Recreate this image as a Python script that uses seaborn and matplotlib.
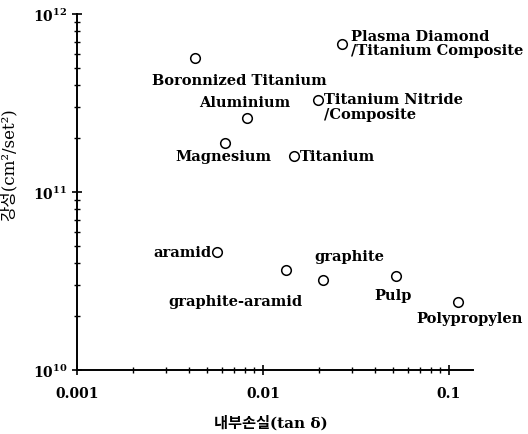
import matplotlib
matplotlib.use('Agg')
import matplotlib.pyplot as plt
import matplotlib.ticker as mticker
import seaborn as sns
import pandas as pd

# values (tan delta, stiffness)
materials = ['Boronnized Titanium', 'Plasma Diamond\n/Titanium Composite', 'Aluminium',
             'Titanium Nitride\n/Composite', 'Magnesium', 'Titanium', 'aramid',
             'graphite-aramid', 'graphite', 'Pulp', 'Polypropylen']
loss = [0.0043, 0.0266, 0.0082, 0.0198, 0.00625, 0.0147, 0.00566, 0.0133, 0.0210, 0.0519, 0.1117]
stiffness = [5.66e11, 6.78e11, 2.61e11, 3.29e11, 1.88e11, 1.59e11, 4.6e10, 3.65e10, 3.2e10, 3.37e10, 2.41e10]

x_ticks = [0.001, 0.01, 0.1]
x_tick_labels = ['0.001', '0.01', '0.1']

# label placement: (dx px, dy px, ha, va)
label_pos = {
    'Boronnized Titanium': (-43, -22, 'left', 'center'),
    'Plasma Diamond\n/Titanium Composite': (9, 1, 'left', 'center'),
    'Aluminium': (-2, 16, 'center', 'center'),
    'Titanium Nitride\n/Composite': (6, 8, 'left', 'top'),
    'Magnesium': (-2, -13, 'center', 'center'),
    'Titanium': (6, 0, 'left', 'center'),
    'aramid': (-5, 0, 'right', 'center'),
    'graphite-aramid': (-50, -31, 'center', 'center'),
    'graphite': (27, 24, 'center', 'center'),
    'Pulp': (-3, -19, 'center', 'center'),
    'Polypropylen': (12, -16, 'center', 'center'),
}

df = pd.DataFrame({'material': materials, 'loss': loss, 'stiffness': stiffness})

sns.set_style('ticks')
serif = ['DejaVu Serif', 'Noto Sans CJK KR']
plt.rcParams['font.family'] = serif
plt.rcParams['text.color'] = 'black'
plt.rcParams['axes.labelcolor'] = 'black'
plt.rcParams['xtick.color'] = 'black'
plt.rcParams['ytick.color'] = 'black'

fig = plt.figure(figsize=(5.28, 4.35), dpi=100)
ax = fig.add_axes([0.1458, 0.147, 0.75, 0.8185])

sns.scatterplot(data=df, x='loss', y='stiffness', ax=ax, s=48, marker='o',
                facecolor='white', edgecolor='black', linewidth=1.1, zorder=3)

ax.set_xscale('log')
ax.set_yscale('log')
ax.set_xlim(0.001, 0.135)
ax.set_ylim(1e10, 1e12)

for name, xv, yv in zip(materials, loss, stiffness):
    dx, dy, ha, va = label_pos[name]
    ax.annotate(name, (xv, yv), xytext=(dx, dy), textcoords='offset pixels',
                ha=ha, va=va, fontsize=10.5, fontweight='bold', family=serif,
                color='black', linespacing=1.05)

ax.xaxis.set_major_locator(mticker.FixedLocator(x_ticks))
ax.xaxis.set_major_formatter(mticker.FixedFormatter(x_tick_labels))
ax.xaxis.set_minor_formatter(mticker.NullFormatter())
ax.yaxis.set_minor_formatter(mticker.NullFormatter())

for side in ['top', 'right']:
    ax.spines[side].set_visible(False)
for side in ['left', 'bottom']:
    ax.spines[side].set_linewidth(1.4)
    ax.spines[side].set_color('black')

ax.tick_params(which='major', direction='inout', length=7, width=1.2, colors='black',
               labelsize=10)
ax.tick_params(which='minor', direction='inout', length=4, width=1.0, colors='black')
for lab in ax.get_xticklabels() + ax.get_yticklabels():
    lab.set_fontweight('bold')
ax.tick_params(axis='x', pad=8)

ax.set_xlabel('내부손실(tan δ)', fontsize=11, fontweight='bold', family=serif)
ax.set_ylabel('강성(cm²/set²)', fontsize=12, family=serif)
ax.xaxis.set_label_coords(0.49, -0.125)
ax.yaxis.set_label_coords(-0.15, 0.58)

plt.savefig('out.png', dpi=100)
plt.close()
